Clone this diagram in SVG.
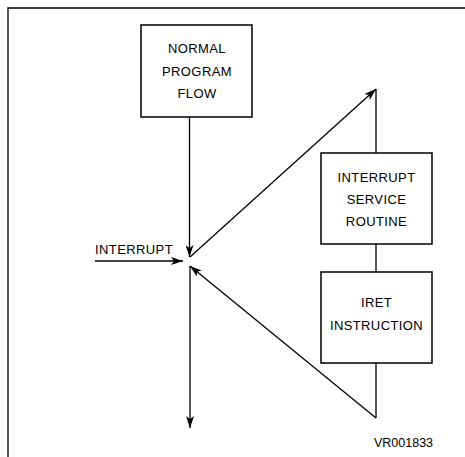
<svg xmlns="http://www.w3.org/2000/svg" width="465" height="457" viewBox="0 0 465 457">
<defs>
<style>
.box{fill:#fff;stroke:#000;stroke-width:1.5}
.ln{fill:none;stroke:#000;stroke-width:1.3}
.t{font-family:"Liberation Sans",Arial,sans-serif;font-size:13px;text-anchor:middle;fill:#000;letter-spacing:0.4px}
</style>
<marker id="ah" viewBox="0 0 12 8" refX="12" refY="4" markerWidth="12" markerHeight="8" markerUnits="userSpaceOnUse" orient="auto">
<path d="M0,0 L12,4 L0,8 L3,4 Z" fill="#000"/>
</marker>
</defs>
<rect width="465" height="457" fill="#fff"/>
<g id="frame">
<path class="ln" d="M8,457 V8 H465" stroke-width="1.6"/>
</g>
<g id="connectors">
<line class="ln" x1="189.5" y1="117" x2="189.5" y2="257" marker-end="url(#ah)"/>
<line class="ln" x1="95" y1="261" x2="183" y2="261" marker-end="url(#ah)"/>
<line class="ln" x1="190" y1="257" x2="376" y2="89" marker-end="url(#ah)"/>
<line class="ln" x1="376" y1="89" x2="376" y2="153"/>
<line class="ln" x1="376" y1="244" x2="376" y2="272"/>
<line class="ln" x1="376" y1="363" x2="376" y2="418"/>
<line class="ln" x1="376" y1="418" x2="190" y2="266" marker-end="url(#ah)"/>
<line class="ln" x1="190" y1="266" x2="190" y2="428" marker-end="url(#ah)"/>
</g>
<g id="normal">
<rect class="box" x="141" y="25" width="111" height="92"/>
<text class="t" x="197" y="53">NORMAL</text>
<text class="t" x="197" y="76">PROGRAM</text>
<text class="t" x="197" y="98">FLOW</text>
</g>
<g id="isr">
<rect class="box" x="321" y="153" width="111" height="91"/>
<text class="t" x="376.5" y="182">INTERRUPT</text>
<text class="t" x="376.5" y="204">SERVICE</text>
<text class="t" x="376.5" y="226">ROUTINE</text>
</g>
<g id="iret">
<rect class="box" x="321" y="272" width="111" height="91"/>
<text class="t" x="376.5" y="307">IRET</text>
<text class="t" x="376.5" y="330">INSTRUCTION</text>
</g>
<g id="interrupt-label">
<text class="t" x="134" y="254">INTERRUPT</text>
</g>
<g id="figid">
<text class="t" x="403.5" y="447" style="font-size:12.5px;letter-spacing:0">VR001833</text>
</g>
</svg>
